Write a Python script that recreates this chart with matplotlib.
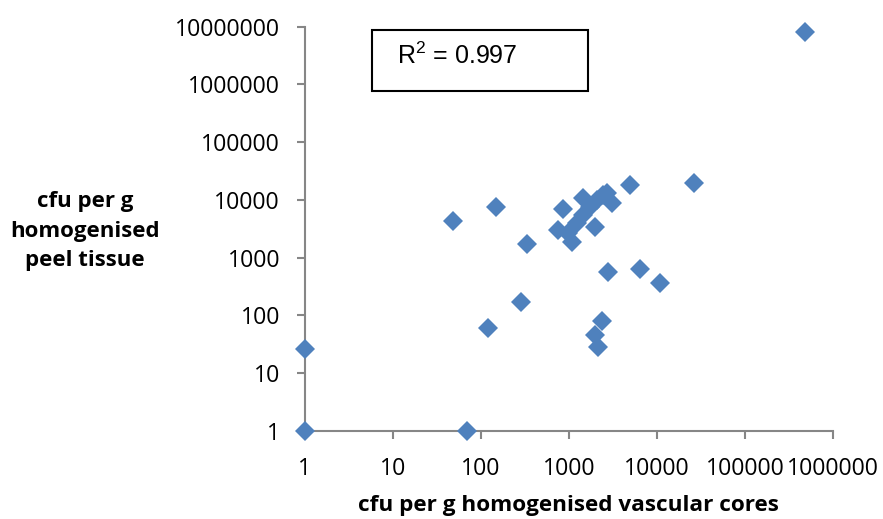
import numpy as np
import matplotlib.pyplot as plt
from matplotlib.patches import Rectangle
from matplotlib.ticker import FixedLocator, FixedFormatter

# cfu per g
vascular = [484000, 1, 1, 69.5, 48, 148, 334, 120, 286, 2790, 6440, 10870,
            26500, 4960, 2380, 1983, 2145,
            753, 858, 1086, 977, 1238, 1449, 1740, 1449, 2090, 2440, 2715,
            3095, 1983]
peel = [8.0e6, 26, 1, 1, 4300, 7500, 1720, 60, 170, 563, 635, 364,
        19500, 18000, 80, 46, 28,
        3000, 6930, 1860, 2670, 3970, 5460, 7500, 10700, 9930, 12100, 13100,
        8800, 3380]

x_ticks = [1, 10, 100, 1000, 10000, 100000, 1000000]
y_ticks = [1, 10, 100, 1000, 10000, 100000, 1000000, 10000000]
r2_text = r'R$^{2}$ = 0.997'

blue = '#4F81BD'
grey = '#868686'
font = 'Open Sans'

plt.rcParams['mathtext.fontset'] = 'custom'
plt.rcParams['mathtext.rm'] = 'Liberation Sans'
plt.rcParams['mathtext.it'] = 'Liberation Sans'
plt.rcParams['mathtext.default'] = 'rm'

fig = plt.figure(figsize=(8.83, 5.19), dpi=100)
ax = fig.add_axes([305/883, 1-431/519, 528/883, 404.3/519])

ax.plot(vascular, peel, linestyle='none', marker='D', markersize=10.3,
        color=blue, markeredgewidth=0, clip_on=False, zorder=3)

ax.set_xscale('log')
ax.set_yscale('log')
ax.set_xlim(1, 1000000)
ax.set_ylim(1, 10000000)
ax.xaxis.set_major_locator(FixedLocator(x_ticks))
ax.xaxis.set_major_formatter(FixedFormatter([str(v) for v in x_ticks]))
ax.yaxis.set_major_locator(FixedLocator(y_ticks))
ax.yaxis.set_major_formatter(FixedFormatter([str(v) for v in y_ticks]))
ax.minorticks_off()

for s in ['top', 'right']:
    ax.spines[s].set_visible(False)
for s in ['left', 'bottom']:
    ax.spines[s].set_color(grey)
    ax.spines[s].set_linewidth(1.5)
ax.tick_params(axis='both', direction='out', length=6, width=1.5,
               color=grey, labelsize=16.7, labelcolor='black')
ax.tick_params(axis='y', pad=12)
ax.tick_params(axis='x', pad=13)
for lab in ax.get_xticklabels() + ax.get_yticklabels():
    lab.set_fontfamily(font)

ax.set_xlabel('cfu per g homogenised vascular cores', fontsize=16.2,
              fontweight='bold', family=font)
ax.xaxis.set_label_coords((568-305)/528, -(505-431)/404.3)
ax.xaxis.label.set_va('center')
fig.text(85/883, 1-231/519, 'cfu per g\nhomogenised\npeel tissue',
         ha='center', va='center', fontsize=16, fontweight='bold',
         family=font, linespacing=1.52)

# R-squared box
ax.add_patch(Rectangle((0.127, 0.841), 0.409, 0.151, transform=ax.transAxes,
                       fill=False, edgecolor='black', linewidth=1.5,
                       clip_on=False))
ax.text(0.174, 0.928, r2_text, transform=ax.transAxes, ha='left',
        va='center', fontsize=18, family='Liberation Sans')

fig.savefig('out.png', dpi=100)
